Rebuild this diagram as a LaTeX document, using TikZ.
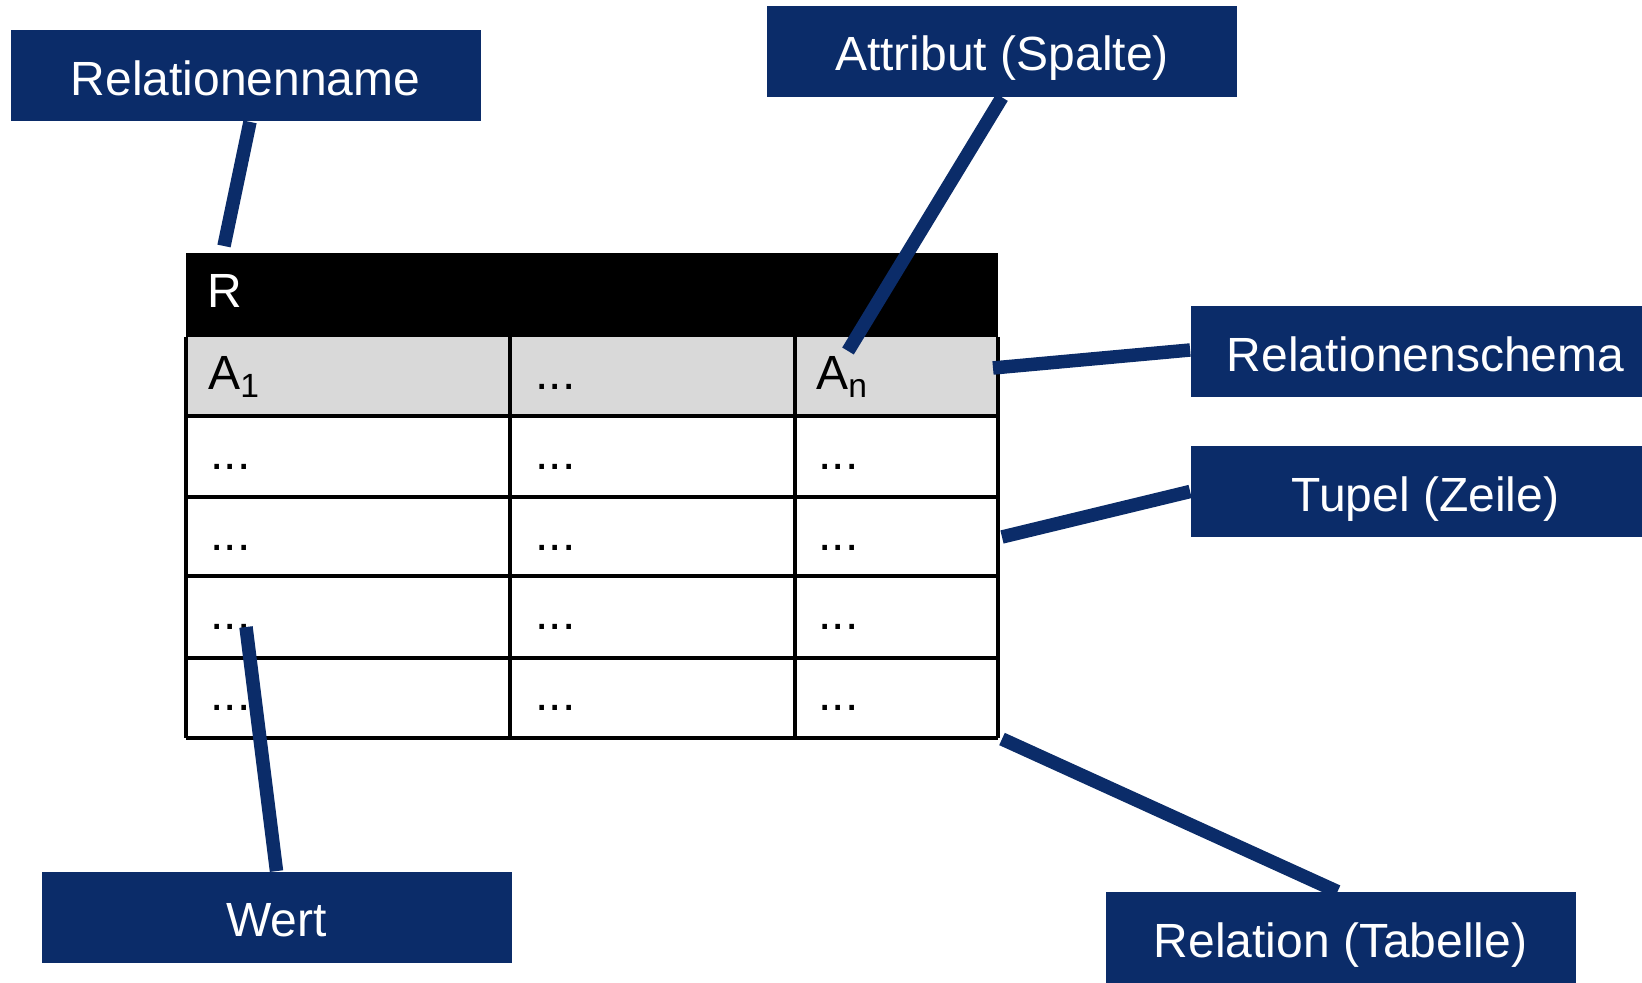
\documentclass[tikz,border=0pt]{standalone}
\usepackage{fontspec}
\setmainfont{Liberation Sans}
\definecolor{navy}{RGB}{11,44,105}
\definecolor{headgray}{RGB}{217,217,217}
\begin{document}
\begin{tikzpicture}[x=0.5pt,y=-0.5pt,
  tag/.style={fill=navy, text=white, minimum width=235pt, minimum height=45.5pt,
    inner sep=0pt, font=\fontsize{24}{28}\selectfont, text height=19.5pt, text depth=0pt},
  cell/.style={anchor=base west, inner sep=0pt, font=\fontsize{24}{28}\selectfont},
  grid/.style={line width=1.7pt, black},
  conn/.style={line width=6.75pt, navy}]
\clip (0,0) rectangle (1642,983);

% table: title bar, schema row, grid
\fill[black] (186,253) rectangle (998,337);
\fill[headgray] (186,337) rectangle (998,416);
\foreach \xx in {186,510,795,998} \draw[grid] (\xx,337) -- (\xx,738);
\foreach \yy in {416,497,576,658,738} \draw[grid] (186,\yy) -- (998,\yy);

% table contents
\node[cell, text=white] (tR) at (207,308) {R};
\node[cell] (h1) at (208,390) {A\textsubscript{1}};
\node[cell] (h2) at (535,390) {...};
\node[cell] (h3) at (816,390) {A\textsubscript{n}};
\foreach \yy [count=\r] in {470,550,629,710} {
  \node[cell] (c\r a) at (210,\yy) {...};
  \node[cell] (c\r b) at (535,\yy) {...};
  \node[cell] (c\r c) at (818,\yy) {...};
}

% callout labels
\node[tag] (lname)   at (245.5,76)   {Relationenname};
\node[tag] (lattr)   at (1002,51.5)  {Attribut (Spalte)};
\node[tag] (lschema) at (1425.5,352) {Relationenschema};
\node[tag] (ltupel)  at (1425.5,491.5) {Tupel (Zeile)};
\node[tag] (lwert)   at (276.5,917)  {Wert};
\node[tag] (lrel)    at (1340.5,937.5) {Relation (Tabelle)};

% points on the table the callouts refer to
\coordinate (pname)   at (224,246);
\coordinate (pattr)   at (848,351);
\coordinate (pschema) at (993,368);
\coordinate (ptupel)  at (1002,537);
\coordinate (pwert)   at (246,627);
\coordinate (prel)    at (1002,739);

% callout connectors
\draw[conn] ([xshift=2.25pt]lname.south) -- (pname);
\draw[conn] (lattr.south) -- (pattr);
\draw[conn] ([yshift=1pt]lschema.west) -- (pschema);
\draw[conn] (ltupel.west) -- (ptupel);
\draw[conn] (lwert.north) -- (pwert);
\draw[conn] ([xshift=-1.5pt]lrel.north) -- (prel);
\end{tikzpicture}
\end{document}
